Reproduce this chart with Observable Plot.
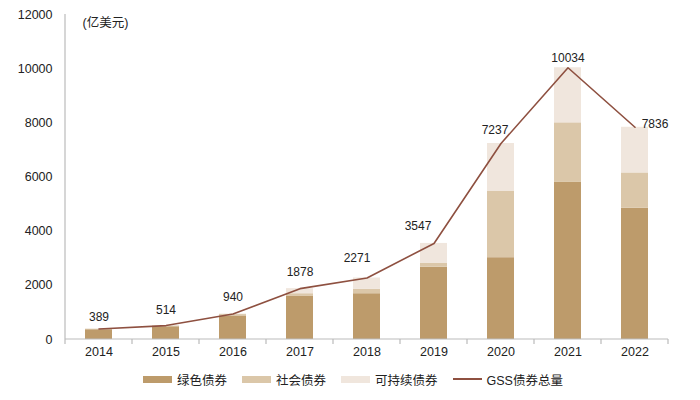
<!DOCTYPE html>
<html><head><meta charset="utf-8">
<script src="https://cdn.jsdelivr.net/npm/d3@7"></script>
<script src="https://cdn.jsdelivr.net/npm/@observablehq/plot@0.6"></script>
<style>
body{margin:0;background:#fff;font-family:"Liberation Sans","Noto Sans CJK SC",sans-serif;}
#legend{display:flex;gap:0;height:38px;align-items:center;font-size:12.5px;color:#222;padding-left:143px;margin-top:-2px}
.item{display:flex;align-items:center;margin-right:15px}
.sw{width:29px;height:7px;margin-right:5px}
.ln{width:29px;height:2px;margin-right:5px}
</style></head><body>
<div id="chart"></div>
<div id="legend"></div>
<script>
const years = ["2014","2015","2016","2017","2018","2019","2020","2021","2022"];
const green = [360, 470, 870, 1590, 1690, 2670, 3020, 5800, 4850];
const social = [20, 30, 50, 100, 160, 150, 2460, 2200, 1300];
const sustain = [9, 14, 20, 188, 421, 727, 1757, 2034, 1686];
const totals = [389, 514, 940, 1878, 2271, 3547, 7237, 10034, 7836];
const seriesNames = ["绿色债券", "社会债券", "可持续债券"];
const lineName = "GSS债券总量";
const colors = ["#BD9B6B", "#DBC7A9", "#F0E6DD"];
const lineColor = "#8E5040";
const yTicks = [0, 2000, 4000, 6000, 8000, 10000, 12000];

// label placement nudges (style only)
const nudge = {
  "2014": [0, -12], "2015": [0, -15], "2016": [0, -17], "2017": [0, -16],
  "2018": [-10, -20], "2019": [-16, -17], "2020": [-6, -13], "2021": [0, -10], "2022": [20, -3]
};

const rows = [];
years.forEach((y, i) => {
  rows.push({year: y, type: seriesNames[0], value: green[i]});
  rows.push({year: y, type: seriesNames[1], value: social[i]});
  rows.push({year: y, type: seriesNames[2], value: sustain[i]});
});
const tot = years.map((y, i) => ({year: y, total: totals[i]}));

const labelMarks = tot.map(d => Plot.text([d], {
  x: "year", y: "total", text: r => String(r.total),
  dx: nudge[d.year][0], dy: nudge[d.year][1], fontSize: 12, fill: "#222"
}));

const plot = Plot.plot({
  width: 700, height: 362,
  marginLeft: 62, marginRight: 30, marginTop: 14, marginBottom: 23,
  style: {fontFamily: '"Liberation Sans","Noto Sans CJK SC",sans-serif', fontSize: "12px", color: "#222"},
  x: {domain: years, paddingInner: 0.6, paddingOuter: 0.3, label: null},
  y: {domain: [0, 12000], ticks: yTicks, label: null},
  color: {domain: seriesNames, range: colors},
  marks: [
    Plot.axisY({ticks: yTicks, tickSize: 0, tickPadding: 10, label: null, fontSize: 12.5, tickFormat: d => String(d)}),
    Plot.axisX({tickSize: 0, tickPadding: 8, label: null, fontSize: 12.5}),
    Plot.barY(rows, {x: "year", y: "value", fill: "type", order: seriesNames}),
    Plot.line(tot, {x: "year", y: "total", stroke: lineColor, strokeWidth: 1.6}),
    ...labelMarks,
    Plot.text(["(亿美元)"], {frameAnchor: "top-left", dx: 20, dy: 4, fontSize: 12.5, fill: "#222", textAnchor: "start"})
  ]
});
document.getElementById("chart").appendChild(plot);

// axis lines and band boundary ticks
const xs = plot.scale("x"), ys = plot.scale("y");
const svg = d3.select(plot);
const y0 = ys.apply(0), yTop = ys.apply(12000);
const step = xs.step, bw = xs.bandwidth;
const firstLeft = xs.apply(years[0]) - (step - bw) / 2;
const g = svg.append("g").attr("stroke", "#bbb").attr("stroke-width", 1.2);
g.append("line").attr("x1", firstLeft).attr("x2", firstLeft).attr("y1", yTop).attr("y2", y0);
g.append("line").attr("x1", firstLeft).attr("x2", firstLeft + years.length * step).attr("y1", y0).attr("y2", y0);
for (let i = 0; i <= years.length; i++) {
  const xx = firstLeft + i * step;
  g.append("line").attr("x1", xx).attr("x2", xx).attr("y1", y0).attr("y2", y0 + 5);
}

// legend
const leg = document.getElementById("legend");
seriesNames.forEach((n, i) => {
  const it = document.createElement("div"); it.className = "item";
  it.innerHTML = `<span class="sw" style="background:${colors[i]}"></span><span>${n}</span>`;
  leg.appendChild(it);
});
const it = document.createElement("div"); it.className = "item";
it.innerHTML = `<span class="ln" style="background:${lineColor}"></span><span>${lineName}</span>`;
leg.appendChild(it);
</script>
</body></html>
